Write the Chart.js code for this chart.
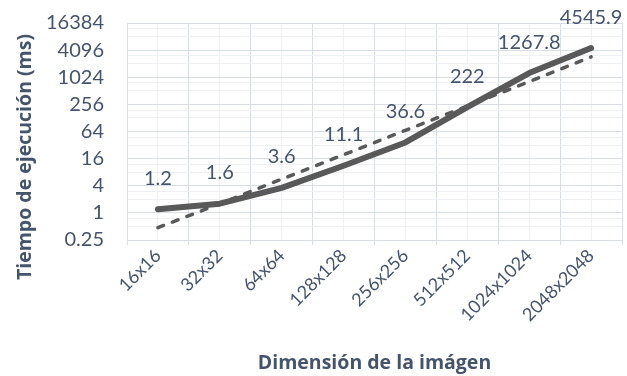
<!DOCTYPE html>
<html>
<head>
<meta charset="utf-8">
<script src="https://cdn.jsdelivr.net/npm/chart.js@4.4.1/dist/chart.umd.min.js"></script>
<style>
  html, body { margin: 0; padding: 0; background: #ffffff; }
  #wrap { width: 627px; height: 376px; }
</style>
</head>
<body>
<div id="wrap"><canvas id="c" width="627" height="376"></canvas></div>
<script>
// Image sizes on the x axis
const categories = ['16x16', '32x32', '64x64', '128x128', '256x256', '512x512', '1024x1024', '2048x2048'];
// Measured execution time (ms)
const tiempos = [1.2, 1.6, 3.6, 11.1, 36.6, 222, 1267.8, 4545.9];
// Exponential trend line values
const tendencia = [0.47, 1.6, 5.6, 19.5, 68, 235, 820, 2900];
// Labelled y ticks (powers of 4) and the unlabelled minor gridlines
const yTicks = [0.25, 1, 4, 16, 64, 256, 1024, 4096, 16384];
const yMinor = [0.5, 0.75, 2, 3, 8, 12, 32, 48, 128, 192, 512, 768, 2048, 3072, 8192, 12288];
const yTitle = 'Tiempo de ejecución (ms)';
const xTitle = 'Dimensión de la imágen';

const TEXT = '#44546A';
const GRID_MAJOR = '#D9DDE4';
const GRID_MINOR = '#EEF0F4';
const LINE = '#595959';
const TITLE_FONT = 'bold 19.5px "Open Sans"';

// Value labels above the measured series, plus the vertical axis title
const annotate = {
  id: 'annotate',
  afterDatasetsDraw(chart) {
    const ctx = chart.ctx;
    const meta = chart.getDatasetMeta(0);
    ctx.save();
    ctx.font = '20px Lato';
    ctx.fillStyle = TEXT;
    ctx.textAlign = 'center';
    ctx.textBaseline = 'middle';
    meta.data.forEach((pt, i) => {
      ctx.fillText(String(tiempos[i]), pt.x, pt.y - 31);
    });
    ctx.restore();

    ctx.save();
    ctx.font = TITLE_FONT;
    ctx.fillStyle = TEXT;
    ctx.textAlign = 'center';
    ctx.textBaseline = 'middle';
    ctx.translate(25, 157);
    ctx.rotate(-Math.PI / 2);
    ctx.fillText(yTitle, 0, 0);
    ctx.restore();
  }
};

new Chart(document.getElementById('c'), {
  type: 'line',
  data: {
    labels: categories,
    datasets: [
      {
        data: tiempos,
        borderColor: LINE,
        borderWidth: 6,
        borderCapStyle: 'round',
        borderJoinStyle: 'round',
        pointRadius: 0,
        tension: 0,
        xAxisID: 'x'
      },
      {
        data: tendencia,
        borderColor: LINE,
        borderWidth: 3.5,
        borderCapStyle: 'round',
        borderDash: [6, 9.5],
        pointRadius: 0,
        tension: 0,
        xAxisID: 'x'
      }
    ]
  },
  options: {
    responsive: false,
    animation: false,
    devicePixelRatio: 1,
    layout: { padding: { top: 23, right: 5, left: 0, bottom: 0 } },
    plugins: { legend: { display: false }, tooltip: { enabled: false } },
    scales: {
      x: {
        type: 'category',
        offset: true,
        grid: { offset: true, color: GRID_MAJOR, lineWidth: 1, tickLength: 5, drawTicks: true },
        border: { display: true, color: GRID_MAJOR },
        ticks: {
          color: TEXT,
          font: { family: 'Lato', size: 18 },
          minRotation: 45,
          maxRotation: 45,
          autoSkip: false,
          padding: 0
        },
        title: {
          display: true,
          text: xTitle,
          color: TEXT,
          font: { family: 'Open Sans', size: 19.5, weight: 'bold' },
          padding: { top: 0, bottom: 1 }
        },
        afterFit(scale) { scale.height = 136; }
      },
      x2: {
        type: 'category',
        labels: categories,
        position: 'bottom',
        offset: true,
        grid: { offset: false, color: GRID_MINOR, lineWidth: 1, drawTicks: false },
        border: { display: false },
        ticks: { display: false },
        afterFit(scale) { scale.height = 0; }
      },
      y: {
        type: 'logarithmic',
        min: 0.25,
        max: 16384,
        afterBuildTicks(scale) {
          scale.ticks = yTicks.concat(yMinor).sort((a, b) => a - b).map(v => ({ value: v }));
        },
        grid: {
          drawTicks: true,
          tickLength: 20,
          tickColor: 'rgba(0,0,0,0)',
          color: ctx => (yTicks.includes(ctx.tick.value) ? GRID_MAJOR : GRID_MINOR),
          lineWidth: 1
        },
        border: { display: true, color: GRID_MAJOR },
        ticks: {
          color: TEXT,
          font: { family: 'Lato', size: 20 },
          autoSkip: false,
          padding: 3,
          callback: v => (yTicks.includes(v) ? String(v) : '')
        },
        title: { display: false },
        afterFit(scale) { scale.width = 127; }
      }
    }
  },
  plugins: [annotate]
});
</script>
</body>
</html>
